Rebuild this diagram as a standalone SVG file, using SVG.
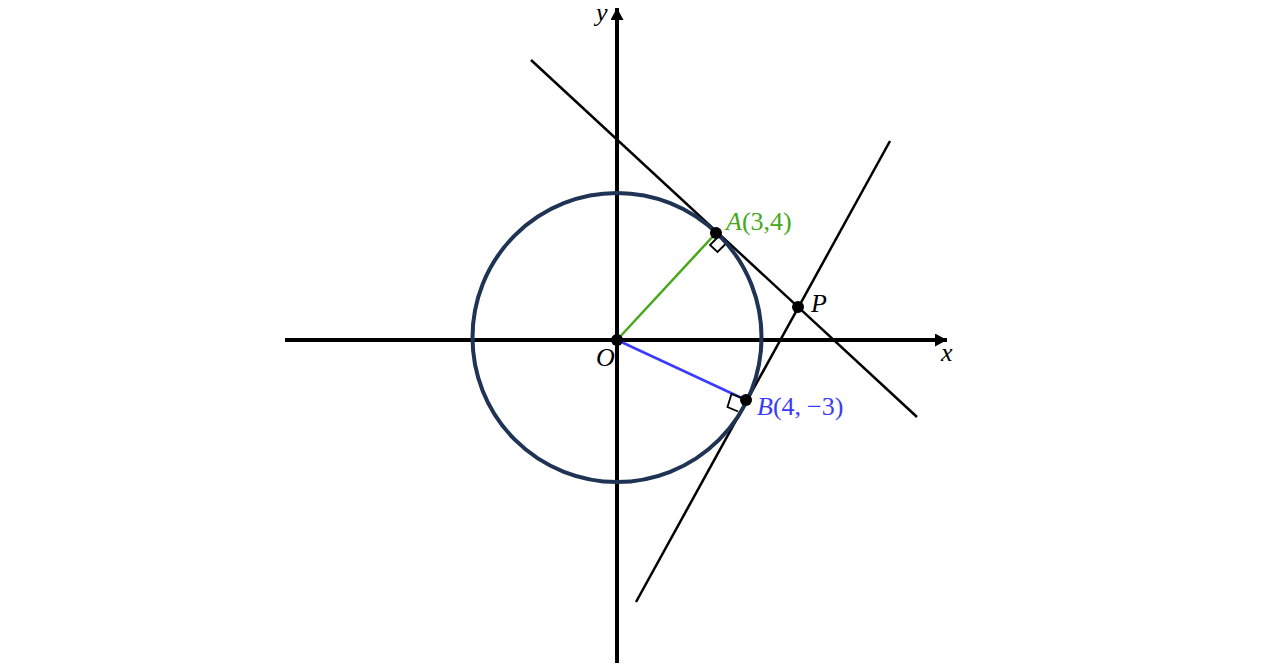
<svg xmlns="http://www.w3.org/2000/svg" width="1280" height="667" viewBox="0 0 1280 667">
<defs>
<style>
.axis{stroke:#000;stroke-width:4;fill:none}
.ln{stroke:#000;stroke-width:2.5;fill:none}
.ra{stroke:#000;stroke-width:1.8;fill:none}
.lbl{font-family:"Liberation Serif","DejaVu Serif",serif;font-size:26px}
.it{font-style:italic}
.dot{fill:#000}
</style>
<marker id="arr" viewBox="0 0 12 13" refX="12" refY="6.5" markerWidth="12" markerHeight="13" markerUnits="userSpaceOnUse" orient="auto">
<path d="M0,0 L12,6.5 L0,13 Z" fill="#000"/>
</marker>
</defs>
<rect width="1280" height="667" fill="#fff"/>
<g id="connectors">
<line id="x-axis" class="axis" x1="285" y1="340" x2="947" y2="340" marker-end="url(#arr)"/>
<line id="y-axis" class="axis" x1="617" y1="663" x2="617" y2="8" marker-end="url(#arr)"/>
<line id="tangent-A" class="ln" x1="531" y1="60" x2="917" y2="417"/>
<line id="tangent-B" class="ln" x1="636" y1="602" x2="890" y2="141"/>
<line id="OA" x1="617" y1="340" x2="716" y2="233" stroke="#46a81a" stroke-width="2.5"/>
<line id="OB" x1="617" y1="340" x2="746" y2="400" stroke="#3b3bff" stroke-width="2.5"/>
<path id="right-angle-A" class="ra" d="M718,237 L710,245 L717.5,252 L725.5,244"/>
<path id="right-angle-B" class="ra" d="M742,398 L731.5,394 L727.5,407 L738,411.5"/>
</g>
<g id="circle">
<circle cx="617" cy="337.5" r="144.5" fill="none" stroke="#1f3354" stroke-width="4"/>
</g>
<g id="node-O">
<circle class="dot" cx="617" cy="340" r="6"/>
<text class="lbl it" x="596" y="366">O</text>
</g>
<g id="node-A">
<circle class="dot" cx="716" cy="233" r="6"/>
<text class="lbl" x="726" y="230" fill="#46a81a"><tspan class="it">A</tspan>(3,4)</text>
</g>
<g id="node-B">
<circle class="dot" cx="746" cy="400" r="6"/>
<text class="lbl" x="757" y="415" fill="#3b3bff"><tspan class="it">B</tspan>(4,<tspan dx="6">−3)</tspan></text>
</g>
<g id="node-P">
<circle class="dot" cx="798" cy="307" r="6"/>
<text class="lbl it" x="811" y="312">P</text>
</g>
<g id="label-x">
<text class="lbl it" x="941" y="361">x</text>
</g>
<g id="label-y">
<text class="lbl it" x="596" y="21">y</text>
</g>
</svg>
